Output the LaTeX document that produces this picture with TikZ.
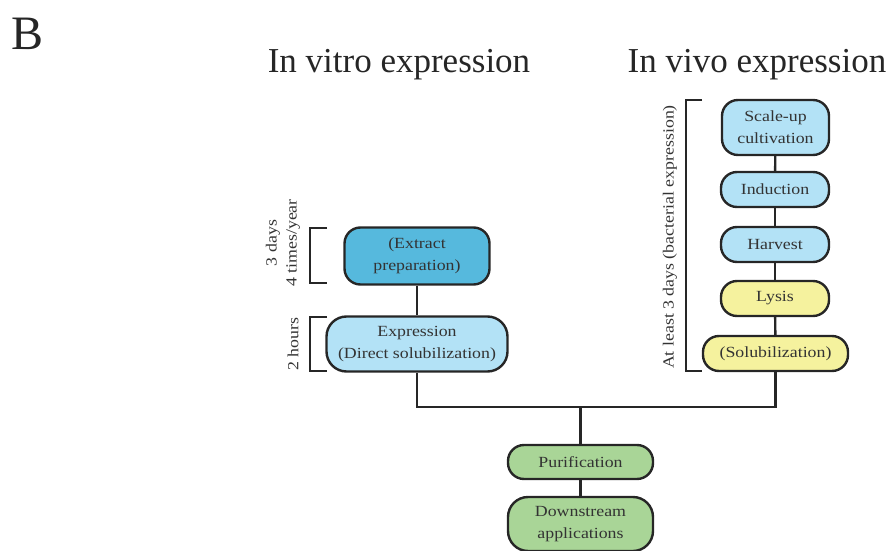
\documentclass[tikz,border=0pt]{standalone}
\usepackage{fontspec}
\setmainfont{Liberation Serif}
\newfontfamily\boxfont[FakeStretch=1.15]{Liberation Serif}
\definecolor{darkblue}{HTML}{56B9DD}
\definecolor{lightblue}{HTML}{B3E2F6}
\definecolor{paleyellow}{HTML}{F5F29E}
\definecolor{palegreen}{HTML}{A9D597}
\definecolor{txt}{HTML}{333333}
\begin{document}
\begin{tikzpicture}[x=1pt,y=-1pt,
  box/.style={draw=black!85,line width=2.4pt,rounded corners=16pt,align=center,
    font=\boxfont\fontsize{15.5}{22}\selectfont,text=txt,inner sep=0pt},
  conn/.style={line width=2.4pt,draw=black!85},
  brk/.style={line width=2.4pt,draw=black!85},
  side/.style={rotate=90,font=\boxfont\fontsize{15.5}{20}\selectfont,text=txt,align=center},
  head/.style={font=\fontsize{35}{40}\selectfont,text=black!85}]
\useasboundingbox (0,0) rectangle (886,551);
\node[font=\fontsize{48}{50}\selectfont,text=black!85,anchor=base west,inner sep=0pt] (B) at (11,50) {B};
\node[head,anchor=base] (hvitro) at (399,73) {In vitro expression};
\node[head,anchor=base] (hvivo) at (757,73) {In vivo expression};
% in vitro
\node[box,fill=darkblue,minimum width=145pt,minimum height=57pt] (extract) at (417,256) {(Extract\\preparation)};
\node[box,fill=lightblue,minimum width=181pt,minimum height=55pt,rounded corners=20pt] (expr) at (417,344) {Expression\\(Direct solubilization)};
% in vivo
\node[box,fill=lightblue,minimum width=107pt,minimum height=55pt] (scale) at (775.5,127.5) {Scale-up\\cultivation};
\node[box,fill=lightblue,minimum width=108pt,minimum height=35pt] (induct) at (775,189.5) {Induction};
\node[box,fill=lightblue,minimum width=108pt,minimum height=35pt] (harv) at (775,244.5) {Harvest};
\node[box,fill=paleyellow,minimum width=108pt,minimum height=35pt] (lysis) at (775,298.5) {Lysis};
\node[box,fill=paleyellow,minimum width=145pt,minimum height=35pt] (solub) at (775.5,353.5) {(Solubilization)};
% bottom
\node[box,fill=palegreen,minimum width=145pt,minimum height=34pt] (purif) at (580.5,462) {Purification};
\node[box,fill=palegreen,minimum width=145pt,minimum height=54pt,rounded corners=20pt] (down) at (580.5,524) {Downstream\\applications};
% connectors
\draw[conn] (extract) -- (expr);
\draw[conn] (scale) -- (induct);
\draw[conn] (induct) -- (harv);
\draw[conn] (harv) -- (lysis);
\draw[conn] (lysis) -- (solub);
\coordinate (jl) at (417,407);
\coordinate (jr) at (775.5,407);
\coordinate (jm) at (580.5,407);
\draw[conn] (expr.south) -- (jl) -- (jr) -- (solub.south);
\draw[conn] (jm) -- (purif.north);
\draw[conn] (purif) -- (down);
% brackets
\coordinate (b1t) at (327,228);
\coordinate (b1b) at (327,283);
\draw[brk] (b1t) -- (310,228) -- (310,283) -- (b1b);
\coordinate (b2t) at (327,317);
\coordinate (b2b) at (327,371);
\draw[brk] (b2t) -- (310,317) -- (310,371) -- (b2b);
\coordinate (b3t) at (702,100);
\coordinate (b3b) at (702,371);
\draw[brk] (b3t) -- (686,100) -- (686,371) -- (b3b);
% side labels
\node[side] (l1) at (283,243) {3 days\\4 times/year};
\node[side] (l2) at (293,344) {2 hours};
\node[side] (l3) at (670,237) {At least 3 days (bacterial expression)};
\end{tikzpicture}
\end{document}
